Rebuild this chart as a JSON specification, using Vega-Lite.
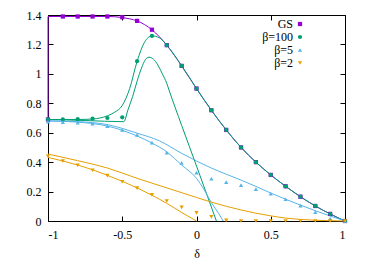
{
  "$schema": "https://vega.github.io/schema/vega-lite/v6.json",
  "width": 297,
  "height": 206,
  "autosize": "none",
  "padding": {"left": 48, "top": 15, "right": 29, "bottom": 41},
  "background": "white",
  "config": {
    "view": {"stroke": "black", "strokeWidth": 1},
    "font": "Liberation Serif, serif",
    "axis": {"grid": false, "domain": false, "tickColor": "black", "tickSize": -5, "labelFont": "Liberation Serif, serif", "labelFontSize": 12, "labelColor": "black", "titleFont": "Liberation Serif, serif", "titleFontSize": 12, "titleFontWeight": "normal", "titleColor": "black"},
    "legend": {"labelFont": "Liberation Serif, serif"},
    "line": {"strokeWidth": 1, "interpolate": "monotone"}
  },
  "datasets": {
    "lines": [
      {"s": "GS", "c": "GSv", "o": 1, "x": -1, "y": 0.69},
      {"s": "GS", "c": "GSv", "o": 2, "x": -1, "y": 1.39},
      {"s": "GS", "c": "GS", "o": 4, "x": -1, "y": 1.39},
      {"s": "GS", "c": "GS", "o": 5, "x": -0.6, "y": 1.39},
      {"s": "GS", "c": "GS", "o": 6, "x": -0.55, "y": 1.388},
      {"s": "GS", "c": "GS", "o": 7, "x": -0.5, "y": 1.383},
      {"s": "GS", "c": "GS", "o": 8, "x": -0.45, "y": 1.374},
      {"s": "GS", "c": "GS", "o": 9, "x": -0.4, "y": 1.36},
      {"s": "GS", "c": "GS", "o": 10, "x": -0.35, "y": 1.335},
      {"s": "GS", "c": "GS", "o": 11, "x": -0.3, "y": 1.3},
      {"s": "GS", "c": "GS", "o": 12, "x": -0.25, "y": 1.252},
      {"s": "GS", "c": "GS", "o": 13, "x": -0.2, "y": 1.195},
      {"s": "GS", "c": "GS", "o": 14, "x": -0.15, "y": 1.128},
      {"s": "GS", "c": "GS", "o": 15, "x": -0.1, "y": 1.054},
      {"s": "GS", "c": "GS", "o": 16, "x": -0.05, "y": 0.978},
      {"s": "GS", "c": "GS", "o": 17, "x": 0, "y": 0.9},
      {"s": "GS", "c": "GS", "o": 18, "x": 0.1, "y": 0.753},
      {"s": "GS", "c": "GS", "o": 19, "x": 0.2, "y": 0.619},
      {"s": "GS", "c": "GS", "o": 20, "x": 0.3, "y": 0.5},
      {"s": "GS", "c": "GS", "o": 21, "x": 0.4, "y": 0.4},
      {"s": "GS", "c": "GS", "o": 22, "x": 0.5, "y": 0.313},
      {"s": "GS", "c": "GS", "o": 23, "x": 0.6, "y": 0.236},
      {"s": "GS", "c": "GS", "o": 24, "x": 0.7, "y": 0.165},
      {"s": "GS", "c": "GS", "o": 25, "x": 0.8, "y": 0.102},
      {"s": "GS", "c": "GS", "o": 26, "x": 0.9, "y": 0.048},
      {"s": "GS", "c": "GS", "o": 27, "x": 1, "y": 0},

      {"s": "β=100", "c": "A", "o": 1, "x": -1, "y": 0.69},
      {"s": "β=100", "c": "A", "o": 2, "x": -0.8, "y": 0.69},
      {"s": "β=100", "c": "A", "o": 3, "x": -0.7, "y": 0.693},
      {"s": "β=100", "c": "A", "o": 4, "x": -0.65, "y": 0.7},
      {"s": "β=100", "c": "A", "o": 5, "x": -0.6, "y": 0.715},
      {"s": "β=100", "c": "A", "o": 6, "x": -0.55, "y": 0.74},
      {"s": "β=100", "c": "A", "o": 7, "x": -0.5, "y": 0.785},
      {"s": "β=100", "c": "A", "o": 8, "x": -0.45, "y": 0.9},
      {"s": "β=100", "c": "A", "o": 9, "x": -0.4, "y": 1.085},
      {"s": "β=100", "c": "A", "o": 10, "x": -0.35, "y": 1.215},
      {"s": "β=100", "c": "A", "o": 11, "x": -0.3, "y": 1.258},
      {"s": "β=100", "c": "A", "o": 12, "x": -0.25, "y": 1.245},
      {"s": "β=100", "c": "A", "o": 13, "x": -0.2, "y": 1.195},
      {"s": "β=100", "c": "A", "o": 14, "x": -0.15, "y": 1.128},
      {"s": "β=100", "c": "A", "o": 15, "x": -0.1, "y": 1.054},
      {"s": "β=100", "c": "A", "o": 16, "x": -0.05, "y": 0.978},
      {"s": "β=100", "c": "A", "o": 17, "x": 0, "y": 0.9},
      {"s": "β=100", "c": "A", "o": 18, "x": 0.1, "y": 0.753},
      {"s": "β=100", "c": "A", "o": 19, "x": 0.2, "y": 0.619},
      {"s": "β=100", "c": "A", "o": 20, "x": 0.3, "y": 0.5},
      {"s": "β=100", "c": "A", "o": 21, "x": 0.4, "y": 0.4},
      {"s": "β=100", "c": "A", "o": 22, "x": 0.5, "y": 0.313},
      {"s": "β=100", "c": "A", "o": 23, "x": 0.6, "y": 0.236},
      {"s": "β=100", "c": "A", "o": 24, "x": 0.7, "y": 0.165},
      {"s": "β=100", "c": "A", "o": 25, "x": 0.8, "y": 0.102},
      {"s": "β=100", "c": "A", "o": 26, "x": 0.9, "y": 0.048},
      {"s": "β=100", "c": "A", "o": 27, "x": 1, "y": 0},

      {"s": "β=100", "c": "B", "o": 1, "x": -1, "y": 0.69},
      {"s": "β=100", "c": "B", "o": 2, "x": -0.75, "y": 0.683},
      {"s": "β=100", "c": "B", "o": 3, "x": -0.49, "y": 0.675},
      {"s": "β=100", "c": "B", "o": 4, "x": -0.46, "y": 0.76},
      {"s": "β=100", "c": "B", "o": 5, "x": -0.43, "y": 0.846},
      {"s": "β=100", "c": "B", "o": 6, "x": -0.4, "y": 0.95},
      {"s": "β=100", "c": "B", "o": 7, "x": -0.37, "y": 1.04},
      {"s": "β=100", "c": "B", "o": 8, "x": -0.345, "y": 1.095},
      {"s": "β=100", "c": "B", "o": 9, "x": -0.32, "y": 1.113},
      {"s": "β=100", "c": "B", "o": 10, "x": -0.29, "y": 1.1},
      {"s": "β=100", "c": "B", "o": 11, "x": -0.26, "y": 1.06},
      {"s": "β=100", "c": "B", "o": 12, "x": -0.23, "y": 1.0},
      {"s": "β=100", "c": "B", "o": 13, "x": -0.2, "y": 0.935},
      {"s": "β=100", "c": "B", "o": 14, "x": -0.185, "y": 0.89},
      {"s": "β=100", "c": "B", "o": 15, "x": -0.1, "y": 0.65},
      {"s": "β=100", "c": "B", "o": 16, "x": 0, "y": 0.374},
      {"s": "β=100", "c": "B", "o": 17, "x": 0.1, "y": 0.095},
      {"s": "β=100", "c": "B", "o": 18, "x": 0.134, "y": 0},

      {"s": "β=5", "c": "C", "o": 1, "x": -1, "y": 0.68},
      {"s": "β=5", "c": "C", "o": 2, "x": -0.8, "y": 0.675},
      {"s": "β=5", "c": "C", "o": 3, "x": -0.6, "y": 0.655},
      {"s": "β=5", "c": "C", "o": 4, "x": -0.4, "y": 0.597},
      {"s": "β=5", "c": "C", "o": 5, "x": -0.25, "y": 0.545},
      {"s": "β=5", "c": "C", "o": 6, "x": -0.1, "y": 0.46},
      {"s": "β=5", "c": "C", "o": 7, "x": 0, "y": 0.408},
      {"s": "β=5", "c": "C", "o": 8, "x": 0.1, "y": 0.36},
      {"s": "β=5", "c": "C", "o": 9, "x": 0.2, "y": 0.318},
      {"s": "β=5", "c": "C", "o": 10, "x": 0.3, "y": 0.278},
      {"s": "β=5", "c": "C", "o": 11, "x": 0.4, "y": 0.235},
      {"s": "β=5", "c": "C", "o": 12, "x": 0.5, "y": 0.19},
      {"s": "β=5", "c": "C", "o": 13, "x": 0.6, "y": 0.148},
      {"s": "β=5", "c": "C", "o": 14, "x": 0.7, "y": 0.108},
      {"s": "β=5", "c": "C", "o": 15, "x": 0.8, "y": 0.07},
      {"s": "β=5", "c": "C", "o": 16, "x": 0.9, "y": 0.034},
      {"s": "β=5", "c": "C", "o": 17, "x": 1, "y": 0},

      {"s": "β=5", "c": "D", "o": 1, "x": -1, "y": 0.68},
      {"s": "β=5", "c": "D", "o": 2, "x": -0.8, "y": 0.672},
      {"s": "β=5", "c": "D", "o": 3, "x": -0.6, "y": 0.645},
      {"s": "β=5", "c": "D", "o": 4, "x": -0.4, "y": 0.578},
      {"s": "β=5", "c": "D", "o": 5, "x": -0.3, "y": 0.53},
      {"s": "β=5", "c": "D", "o": 6, "x": -0.2, "y": 0.47},
      {"s": "β=5", "c": "D", "o": 7, "x": -0.1, "y": 0.38},
      {"s": "β=5", "c": "D", "o": 8, "x": 0, "y": 0.29},
      {"s": "β=5", "c": "D", "o": 9, "x": 0.05, "y": 0.215},
      {"s": "β=5", "c": "D", "o": 10, "x": 0.1, "y": 0.125},
      {"s": "β=5", "c": "D", "o": 11, "x": 0.15, "y": 0.05},
      {"s": "β=5", "c": "D", "o": 12, "x": 0.18, "y": 0},

      {"s": "β=2", "c": "E", "o": 1, "x": -1, "y": 0.455},
      {"s": "β=2", "c": "E", "o": 2, "x": -0.8, "y": 0.41},
      {"s": "β=2", "c": "E", "o": 3, "x": -0.6, "y": 0.36},
      {"s": "β=2", "c": "E", "o": 4, "x": -0.4, "y": 0.29},
      {"s": "β=2", "c": "E", "o": 5, "x": -0.2, "y": 0.225},
      {"s": "β=2", "c": "E", "o": 6, "x": 0, "y": 0.16},
      {"s": "β=2", "c": "E", "o": 7, "x": 0.1, "y": 0.128},
      {"s": "β=2", "c": "E", "o": 8, "x": 0.2, "y": 0.1},
      {"s": "β=2", "c": "E", "o": 9, "x": 0.3, "y": 0.075},
      {"s": "β=2", "c": "E", "o": 10, "x": 0.4, "y": 0.053},
      {"s": "β=2", "c": "E", "o": 11, "x": 0.5, "y": 0.035},
      {"s": "β=2", "c": "E", "o": 12, "x": 0.6, "y": 0.02},
      {"s": "β=2", "c": "E", "o": 13, "x": 0.7, "y": 0.011},
      {"s": "β=2", "c": "E", "o": 14, "x": 0.8, "y": 0.005},
      {"s": "β=2", "c": "E", "o": 15, "x": 0.9, "y": 0.002},
      {"s": "β=2", "c": "E", "o": 16, "x": 1, "y": 0},

      {"s": "β=2", "c": "F", "o": 1, "x": -1, "y": 0.432},
      {"s": "β=2", "c": "F", "o": 2, "x": -0.9, "y": 0.408},
      {"s": "β=2", "c": "F", "o": 3, "x": -0.8, "y": 0.38},
      {"s": "β=2", "c": "F", "o": 4, "x": -0.7, "y": 0.348},
      {"s": "β=2", "c": "F", "o": 5, "x": -0.6, "y": 0.31},
      {"s": "β=2", "c": "F", "o": 6, "x": -0.5, "y": 0.27},
      {"s": "β=2", "c": "F", "o": 7, "x": -0.4, "y": 0.225},
      {"s": "β=2", "c": "F", "o": 8, "x": -0.3, "y": 0.175},
      {"s": "β=2", "c": "F", "o": 9, "x": -0.2, "y": 0.12},
      {"s": "β=2", "c": "F", "o": 10, "x": -0.1, "y": 0.058},
      {"s": "β=2", "c": "F", "o": 11, "x": 0, "y": 0}
    ],
    "pts": [
      {"s": "GS", "x": -1, "y": 0.69},
      {"s": "GS", "x": -0.9, "y": 1.39},
      {"s": "GS", "x": -0.8, "y": 1.39},
      {"s": "GS", "x": -0.7, "y": 1.39},
      {"s": "GS", "x": -0.6, "y": 1.39},
      {"s": "GS", "x": -0.5, "y": 1.385},
      {"s": "GS", "x": -0.4, "y": 1.36},
      {"s": "GS", "x": -0.3, "y": 1.3},
      {"s": "GS", "x": -0.2, "y": 1.195},
      {"s": "GS", "x": -0.1, "y": 1.054},
      {"s": "GS", "x": 0, "y": 0.9},
      {"s": "GS", "x": 0.1, "y": 0.753},
      {"s": "GS", "x": 0.2, "y": 0.619},
      {"s": "GS", "x": 0.3, "y": 0.5},
      {"s": "GS", "x": 0.4, "y": 0.4},
      {"s": "GS", "x": 0.5, "y": 0.313},
      {"s": "GS", "x": 0.6, "y": 0.236},
      {"s": "GS", "x": 0.7, "y": 0.165},
      {"s": "GS", "x": 0.8, "y": 0.102},
      {"s": "GS", "x": 0.9, "y": 0.048},
      {"s": "GS", "x": 1, "y": 0},
      {"s": "β=100", "x": -1, "y": 0.69},
      {"s": "β=100", "x": -0.9, "y": 0.69},
      {"s": "β=100", "x": -0.8, "y": 0.692},
      {"s": "β=100", "x": -0.7, "y": 0.695},
      {"s": "β=100", "x": -0.6, "y": 0.7},
      {"s": "β=100", "x": -0.5, "y": 0.705},
      {"s": "β=100", "x": -0.4, "y": 1.086},
      {"s": "β=100", "x": -0.3, "y": 1.258},
      {"s": "β=100", "x": -0.2, "y": 1.195},
      {"s": "β=100", "x": -0.1, "y": 1.054},
      {"s": "β=100", "x": 0, "y": 0.9},
      {"s": "β=100", "x": 0.1, "y": 0.753},
      {"s": "β=100", "x": 0.2, "y": 0.619},
      {"s": "β=100", "x": 0.3, "y": 0.5},
      {"s": "β=100", "x": 0.4, "y": 0.4},
      {"s": "β=100", "x": 0.5, "y": 0.313},
      {"s": "β=100", "x": 0.6, "y": 0.236},
      {"s": "β=100", "x": 0.7, "y": 0.165},
      {"s": "β=100", "x": 0.8, "y": 0.102},
      {"s": "β=100", "x": 0.9, "y": 0.048},
      {"s": "β=100", "x": 1, "y": 0},
      {"s": "β=5", "x": -1, "y": 0.675},
      {"s": "β=5", "x": -0.9, "y": 0.672},
      {"s": "β=5", "x": -0.8, "y": 0.668},
      {"s": "β=5", "x": -0.7, "y": 0.661},
      {"s": "β=5", "x": -0.6, "y": 0.645},
      {"s": "β=5", "x": -0.5, "y": 0.619},
      {"s": "β=5", "x": -0.4, "y": 0.585},
      {"s": "β=5", "x": -0.3, "y": 0.533},
      {"s": "β=5", "x": -0.2, "y": 0.465},
      {"s": "β=5", "x": -0.1, "y": 0.395},
      {"s": "β=5", "x": 0, "y": 0.329},
      {"s": "β=5", "x": 0.1, "y": 0.287},
      {"s": "β=5", "x": 0.2, "y": 0.264},
      {"s": "β=5", "x": 0.3, "y": 0.244},
      {"s": "β=5", "x": 0.4, "y": 0.217},
      {"s": "β=5", "x": 0.5, "y": 0.186},
      {"s": "β=5", "x": 0.6, "y": 0.148},
      {"s": "β=5", "x": 0.7, "y": 0.104},
      {"s": "β=5", "x": 0.8, "y": 0.06},
      {"s": "β=5", "x": 0.9, "y": 0.017},
      {"s": "β=5", "x": 1, "y": 0},
      {"s": "β=2", "x": -1, "y": 0.44},
      {"s": "β=2", "x": -0.9, "y": 0.408},
      {"s": "β=2", "x": -0.8, "y": 0.379},
      {"s": "β=2", "x": -0.7, "y": 0.345},
      {"s": "β=2", "x": -0.6, "y": 0.308},
      {"s": "β=2", "x": -0.5, "y": 0.267},
      {"s": "β=2", "x": -0.4, "y": 0.224},
      {"s": "β=2", "x": -0.3, "y": 0.177},
      {"s": "β=2", "x": -0.2, "y": 0.136},
      {"s": "β=2", "x": -0.1, "y": 0.093},
      {"s": "β=2", "x": 0, "y": 0.055},
      {"s": "β=2", "x": 0.1, "y": 0.028},
      {"s": "β=2", "x": 0.2, "y": 0.004},
      {"s": "β=2", "x": 0.3, "y": 0},
      {"s": "β=2", "x": 0.4, "y": 0},
      {"s": "β=2", "x": 0.5, "y": 0},
      {"s": "β=2", "x": 0.6, "y": 0},
      {"s": "β=2", "x": 0.7, "y": 0},
      {"s": "β=2", "x": 0.8, "y": 0},
      {"s": "β=2", "x": 0.9, "y": 0},
      {"s": "β=2", "x": 1, "y": 0}
    ]
  },
  "encoding": {
    "x": {"field": "x", "type": "quantitative", "scale": {"domain": [-1, 1], "nice": false, "zero": false}, "axis": null},
    "y": {"field": "y", "type": "quantitative", "scale": {"domain": [0, 1.4], "nice": false}, "axis": null}
  },
  "layer": [
    {
      "data": {"name": "lines"},
      "transform": [{"filter": "datum.s === 'GS'"}],
      "mark": {"type": "line", "color": "#9400d3"},
      "encoding": {
        "x": {"field": "x", "type": "quantitative", "scale": {"domain": [-1, 1], "nice": false, "zero": false},
              "axis": {"orient": "bottom", "values": [-1, -0.5, 0, 0.5, 1], "labelExpr": "replace(format(datum.value, '~g'), '\u2212', '-')", "labelPadding": 13, "title": "δ", "titlePadding": 8}},
        "y": {"field": "y", "type": "quantitative", "scale": {"domain": [0, 1.4], "nice": false},
              "axis": {"orient": "left", "values": [0, 0.2, 0.4, 0.6, 0.8, 1, 1.2, 1.4], "format": "~g", "labelPadding": 12, "title": null}},
        "detail": {"field": "c"},
        "order": {"field": "o", "type": "quantitative"}
      }
    },
    {
      "data": {"name": "lines"},
      "transform": [{"filter": "datum.s === 'β=100'"}],
      "mark": {"type": "line", "color": "#009e73"},
      "encoding": {"detail": {"field": "c"}, "order": {"field": "o", "type": "quantitative"}}
    },
    {
      "data": {"name": "lines"},
      "transform": [{"filter": "datum.s === 'β=5'"}],
      "mark": {"type": "line", "color": "#56b4e9"},
      "encoding": {"detail": {"field": "c"}, "order": {"field": "o", "type": "quantitative"}}
    },
    {
      "data": {"name": "lines"},
      "transform": [{"filter": "datum.s === 'β=2'"}],
      "mark": {"type": "line", "color": "#e69f00"},
      "encoding": {"detail": {"field": "c"}, "order": {"field": "o", "type": "quantitative"}}
    },
    {
      "data": {"name": "pts"},
      "mark": {"type": "point", "filled": true, "opacity": 1, "size": 18},
      "encoding": {
        "x": {"field": "x", "type": "quantitative", "scale": {"domain": [-1, 1], "nice": false, "zero": false},
              "axis": {"orient": "top", "values": [-1, -0.5, 0, 0.5, 1], "labels": false, "title": null}},
        "y": {"field": "y", "type": "quantitative", "scale": {"domain": [0, 1.4], "nice": false},
              "axis": {"orient": "right", "values": [0, 0.2, 0.4, 0.6, 0.8, 1, 1.2, 1.4], "labels": false, "title": null}},
        "color": {"field": "s", "type": "nominal", "scale": {"domain": ["GS", "β=100", "β=5", "β=2"], "range": ["#9400d3", "#009e73", "#56b4e9", "#e69f00"]},
                  "legend": {"title": null, "orient": "none", "legendX": 246, "legendY": 3, "labelFontSize": 12, "labelColor": "black", "labelAlign": "right", "labelOffset": -13, "symbolSize": 18, "rowPadding": 1, "symbolStrokeWidth": 0}},
        "shape": {"field": "s", "type": "nominal", "scale": {"domain": ["GS", "β=100", "β=5", "β=2"], "range": ["square", "circle", "triangle-up", "triangle-down"]}}
      }
    }
  ],
  "resolve": {"axis": {"x": "independent", "y": "independent"}}
}
